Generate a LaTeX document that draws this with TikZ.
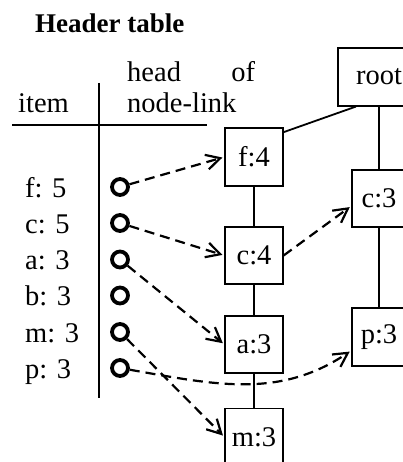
\documentclass[tikz,border=0pt]{standalone}
\usepackage{fontspec}
\setmainfont{Liberation Serif}
\usetikzlibrary{arrows.meta}

\begin{document}
\begin{tikzpicture}[x=1pt, y=-1pt, every node/.style={font=\fontsize{28.5}{32}\selectfont, inner sep=0pt}, box/.style={draw, line width=1.2pt, minimum width=58pt, minimum height=57pt}, link/.style={draw, circle, line width=3.8pt, minimum size=16pt}, edge/.style={line width=1.8pt}, arrow/.style={-{Straight Barb[length=14pt, width=15pt]}, line width=2.2pt, dash pattern=on 10pt off 6pt, shorten >=2pt}]
  \useasboundingbox (0,0) rectangle (403,462);
  \clip (0,0) rectangle (403,462);

  % header table
  \node (title) at (35,33) [anchor=base west, font=\fontsize{27}{30}\selectfont\bfseries] {Header table};
  \node (item) at (18,113) [anchor=base west] {item};
  \node (head) at (127,82) [anchor=base west] {\makebox[128pt][s]{head of}};
  \node (nodelink) at (127,113) [anchor=base west] {node-link};
  \draw[edge] (12,125) -- (207,125);
  \draw[edge] (99,83) -- (99,398);

  \node (lf) at (25,197) [anchor=base west] {f: 5};
  \node (lc) at (25,233) [anchor=base west] {c: 5};
  \node (la) at (25,269.5) [anchor=base west] {a: 3};
  \node (lb) at (25,305.5) [anchor=base west] {b: 3};
  \node (lm) at (25,342) [anchor=base west] {m: 3};
  \node (lp) at (25,378) [anchor=base west] {p: 3};

  \node (hf) at (120,187) [link] {};
  \node (hc) at (120,223) [link] {};
  \node (ha) at (120,259.5) [link] {};
  \node (hb) at (120,295.5) [link] {};
  \node (hm) at (120,332) [link] {};
  \node (hp) at (120,368) [link] {};

  % tree
  \node (root) at (379,77) [box, minimum width=82pt, minimum height=58pt] {root};
  \node (f4) at (254,157) [box, minimum height=58pt] {f:4};
  \node (c4) at (254,255.5) [box] {c:4};
  \node (a3) at (254,344.5) [box] {a:3};
  \node (m3) at (254,437) [box] {m:3};
  \node (c3) at (379,198.5) [box, minimum width=54pt] {c:3};
  \node (p3) at (379,337) [box, minimum width=54pt, minimum height=58pt] {p:3};

  \draw[edge] (root.232) -- (f4.40);
  \draw[edge] (f4) -- (c4);
  \draw[edge] (c4) -- (a3);
  \draw[edge] (a3) -- (m3);
  \draw[edge] (root) -- (c3);
  \draw[edge] (c3) -- (p3);

  % node-links
  \draw[arrow] (hf) -- (f4.west);
  \draw[arrow] (hc) -- (c4.west);
  \draw[arrow] (c4.east) -- (c3.195);
  \draw[arrow] (ha) -- (a3.west);
  \draw[arrow] (hm) -- (m3.west);
  \draw[arrow] (hp) to[out=-10, in=214] (p3.206);
\end{tikzpicture}
\end{document}
